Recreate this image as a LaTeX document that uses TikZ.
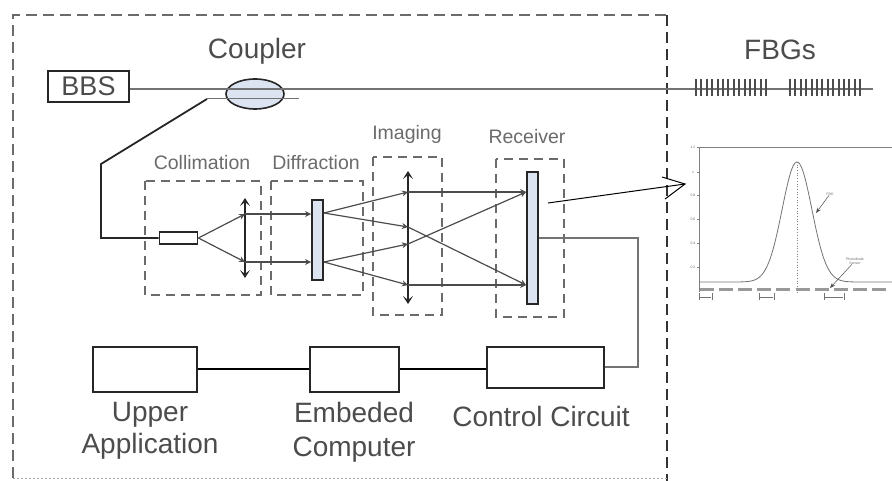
\documentclass[tikz,border=0pt]{standalone}
\usepackage{fontspec}
\setmainfont{Liberation Sans}
\usetikzlibrary{arrows.meta,shapes}
\tikzset{>=Stealth}
\definecolor{inkgray}{gray}{0.3}
\definecolor{dashgray}{gray}{0.42}
\definecolor{platefill}{HTML}{DCE4F2}
\tikzset{
  bigtext/.style={text=inkgray,font=\fontsize{28}{28}\selectfont,inner sep=0pt},
  smalltext/.style={text=dashgray,font=\fontsize{19.5}{19.5}\selectfont,inner sep=0pt},
  tinytext/.style={text=dashgray,font=\fontsize{3.5}{4}\selectfont,inner sep=0pt,align=center},
  groupbox/.style={draw=dashgray,dash pattern=on 9pt off 6pt,line width=1.6pt},
  plate/.style={draw=black!85,fill=platefill,line width=1.8pt,inner sep=0pt},
  block/.style={draw=black!85,line width=1.8pt,inner sep=0pt},
  ray/.style={draw=inkgray,line width=1.2pt,-{Stealth[length=6pt,width=6pt]}},
  fiber/.style={draw=black!55,line width=1.4pt},
  lens/.style={draw=black!85,line width=2pt,{Stealth[length=8pt,width=10pt,inset=4pt]}-{Stealth[length=8pt,width=10pt,inset=4pt]}}
}
\begin{document}
\begin{tikzpicture}[x=1pt,y=-1pt]
\useasboundingbox (0,0) rectangle (892,481);

% outer frame
\draw[dash pattern=on 11pt off 6pt,draw=dashgray,line width=2pt] (13,478) -- (13,15) -- (667,15);
\draw[dash pattern=on 11pt off 6pt,draw=black!80,line width=2pt] (667,15) -- (667,481);
\draw[dash pattern=on 2pt off 2pt,draw=black!35,line width=1pt] (13,478) -- (667,478);

% top row
\node[block,minimum width=81pt,minimum height=31pt,text=inkgray,font=\fontsize{27}{27}\selectfont] (bbs) at (88.5,86.5) {BBS};
\node[bigtext] (couplertext) at (257,51) {Coupler};
\node[bigtext] (fbgtext) at (780,50) {FBGs};
\coordinate (fiberend) at (873,89);
\coordinate (tapend) at (299,99);
\coordinate (tapbend) at (207,99);
\coordinate (tapdown) at (101,164);
\node[ellipse,draw=black!85,fill=platefill,line width=1.6pt,minimum width=58pt,minimum height=30pt,inner sep=0pt] (coupler) at (255,94) {};
\draw[fiber] (bbs.east |- 0,89) -- (fiberend);
\draw[fiber,line width=1pt] (tapbend) -- (tapend);

% grating ticks
\foreach \x in {0,...,13} {
  \draw[inkgray,line width=2pt] (696+5.4*\x,79) -- (696+5.4*\x,96);
  \draw[inkgray,line width=2pt] (790+5.4*\x,79) -- (790+5.4*\x,96);
}

% group boxes
\draw[groupbox] (145,181) rectangle (261,295);
\draw[groupbox] (271,181) rectangle (363,295);
\draw[groupbox] (373,157) rectangle (442,315);
\draw[groupbox] (496,159) rectangle (564,317);
\node[smalltext] (collimationtext) at (202,163) {Collimation};
\node[smalltext] (diffractiontext) at (316,163) {Diffraction};
\node[smalltext] (imagingtext) at (407,134) {Imaging};
\node[smalltext] (receivertext) at (527,137) {Receiver};

% optics
\node[block,minimum width=38pt,minimum height=12pt] (collimator) at (178.5,238) {};
\node[plate,minimum width=11pt,minimum height=80pt] (grating) at (317.5,240) {};
\node[plate,minimum width=11pt,minimum height=132pt] (sensor) at (532.5,238) {};
\coordinate (lensatop) at (245,198);
\coordinate (lensabot) at (245,278);
\coordinate (lensbtop) at (408,171);
\coordinate (lensbbot) at (408,304);
\draw[lens] (lensabot) -- (lensatop);
\draw[lens] (lensbbot) -- (lensbtop);
\draw[black!85,line width=1.8pt] (tapbend) -- (tapdown) -- (101,238) -- (collimator.west);

% rays
\coordinate (a1) at (245,214);
\coordinate (a2) at (245,262);
\coordinate (g1) at (grating.east |- 0,213);
\coordinate (g2) at (grating.east |- 0,262);
\coordinate (b1) at (408,192);
\coordinate (b2) at (408,227);
\coordinate (b3) at (408,244);
\coordinate (b4) at (408,285);
\coordinate (s1) at (sensor.west |- 0,192);
\coordinate (s2) at (sensor.west |- 0,285);
\draw[ray] (collimator.east) -- (a1);
\draw[ray] (collimator.east) -- (a2);
\draw[ray] (a1) -- (grating.west |- a1);
\draw[ray] (a2) -- (grating.west |- a2);
\draw[ray] (g1) -- (b1);
\draw[ray] (g1) -- (b2);
\draw[ray] (g2) -- (b3);
\draw[ray] (g2) -- (b4);
\draw[ray] (b1) -- (s1);
\draw[ray] (b2) -- (s2);
\draw[ray] (b3) -- (s1);
\draw[ray] (b4) -- (s2);

% bottom row
\node[block,minimum width=104pt,minimum height=45pt] (upper) at (145,369.5) {};
\node[block,minimum width=89pt,minimum height=45pt] (embedded) at (354.5,369.5) {};
\node[block,line width=1.4pt,minimum width=117pt,minimum height=41pt] (control) at (545.5,367.5) {};
\node[bigtext,align=center,font=\fontsize{28}{32}\selectfont] (uppertext) at (150,431) {Upper\\Application};
\node[bigtext,align=center,font=\fontsize{28}{34}\selectfont] (embeddedtext) at (354,432) {Embeded\\Computer};
\node[bigtext] (controltext) at (541,416) {Control Circuit};
\draw[black,line width=2.2pt] (upper.east |- 0,369) -- (embedded.west |- 0,369);
\draw[black,line width=2.2pt] (embedded.east |- 0,369) -- (control.west |- 0,369);
\coordinate (turn) at (638,238);
\draw[fiber] (sensor.east |- turn) -- (turn) -- (638,367) -- (control.east |- 0,367);

% spectrum inset
\coordinate (probe) at (548,203);
\coordinate (tip) at (685,184);
\draw[black,line width=1pt] (probe) -- (tip);
\draw[black,line width=1pt] (662,177) -- (tip) -- (665,199);
\draw[black!50,line width=.8pt] (892,147) -- (699,147) -- (699,292);
\draw[black!55,line width=.8pt] plot[domain=699:892,samples=120,smooth] (\x,{282-120*exp(-((\x-797)/21)^2)});
\draw[black!50,line width=.7pt,dotted] (797,162) -- (797,292);
\foreach \x in {0,...,9}
  \draw[black!40,line width=3pt] (700+19.1*\x,290) -- (714+19.1*\x,290);
\foreach \y in {147,172,195,219,243,267}
  \draw[black!50,line width=.5pt] (697,\y) -- (699,\y);
\foreach \a/\b in {699/712,759/774,824/844} {
  \draw[black!55,line width=.6pt] (\a,293) -- (\a,300);
  \draw[black!55,line width=.6pt] (\b,293) -- (\b,300);
  \draw[black!55,line width=.6pt] (\a+1,297) -- (\b-1,297);
}
\node[tinytext] (tick1) at (693,147) {1.2};
\node[tinytext] (tick2) at (693,172) {1};
\node[tinytext] (tick3) at (693,195) {0.8};
\node[tinytext] (tick4) at (693,219) {0.6};
\node[tinytext] (tick5) at (693,243) {0.4};
\node[tinytext] (tick6) at (693,267) {0.2};
\node[tinytext] (fbgmark) at (830,194) {FBG};
\node[tinytext] (pixelmark) at (855,261) {Photodiode\\Sensor};
\draw[black!70,line width=.5pt,->] (fbgmark) -- (816,213);
\draw[black!70,line width=.5pt,->] (pixelmark) -- (830,288);
\end{tikzpicture}
\end{document}
